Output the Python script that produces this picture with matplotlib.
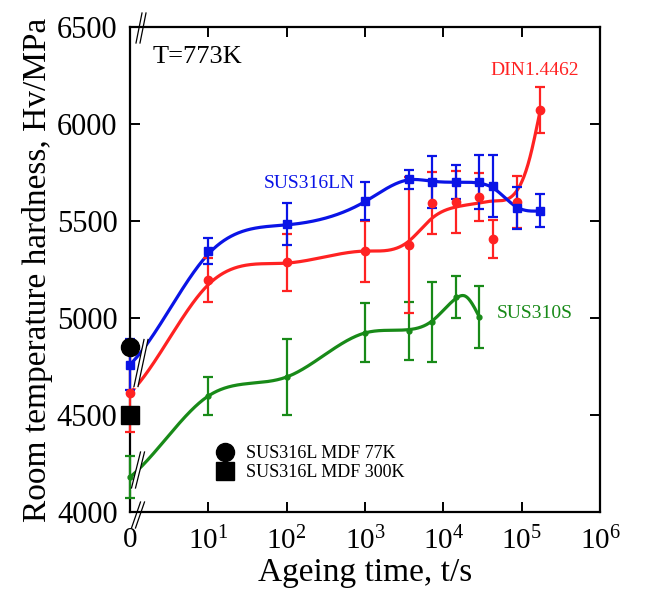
import numpy as np
import matplotlib
matplotlib.use('Agg')
import matplotlib.pyplot as plt
from matplotlib.lines import Line2D

plt.rcParams['font.family'] = ['Liberation Serif', 'DejaVu Serif']
plt.rcParams['mathtext.fontset'] = 'custom'
plt.rcParams['mathtext.rm'] = 'Liberation Serif'

# ---------------- data (ageing time in s; 0 s is drawn at the axis origin) ----------------
t_316ln = [0, 10, 100, 1000, 3600, 7200, 14400, 28800, 43200, 86400, 172800]
hv_316ln = [4760, 5345, 5485, 5603, 5715, 5700, 5700, 5700, 5680, 5567, 5552]
err_316ln = [130, 67, 108, 98, 50, 134, 88, 140, 160, 110, 85]

t_din = [0, 10, 100, 1000, 3600, 7200, 14400, 28800, 43200, 86400, 172800]
hv_din = [4613, 5195, 5288, 5345, 5376, 5593, 5598, 5623, 5407, 5598, 6072]
err_din = [200, 115, 147, 157, 350, 162, 160, 125, 100, 132, 118]

t_310s = [0, 10, 100, 1000, 3600, 7200, 14400, 28800]
hv_310s = [4180, 4598, 4696, 4923, 4933, 4979, 5108, 5005]
err_310s = [108, 98, 198, 152, 150, 206, 110, 160]

# fitted trend curves (values of the curve at these times,
# plus its initial slope per decade at the 0 s end)
fit_t_316ln = [0, 10, 100, 1000, 3600, 7200, 14400, 28800, 43200, 86400, 172800]
fit_hv_316ln = [4760, 5330, 5480, 5600, 5712, 5705, 5700, 5695, 5670, 5572, 5552]
fit_slope0_316ln = 400

fit_t_din = [0, 10, 100, 1000, 3600, 7200, 14400, 28800, 43200, 86400, 125000, 172800]
fit_hv_din = [4613, 5172, 5283, 5345, 5395, 5515, 5572, 5593, 5603, 5655, 5815, 6072]
fit_slope0_din = 400

fit_t_310s = [0, 10, 100, 1000, 3600, 7200, 14400, 19000, 28800]
fit_hv_310s = [4180, 4598, 4696, 4923, 4940, 4985, 5100, 5113, 5005]
fit_slope0_310s = 330

# SUS316L MDF reference values (at 0 s)
mdf_77k = 4850
mdf_300k = 4500

xtick_vals = [1, 10, 100, 1000, 1e4, 1e5, 1e6]
xtick_labels = ['0', r'$\mathregular{10^{1}}$', r'$\mathregular{10^{2}}$', r'$\mathregular{10^{3}}$',
                r'$\mathregular{10^{4}}$', r'$\mathregular{10^{5}}$', r'$\mathregular{10^{6}}$']
ytick_vals = [4000, 4500, 5000, 5500, 6000, 6500]

c_blue = '#0a14e6'
c_red = '#ff2222'
c_green = '#188a18'


def to_plot_x(t):
    t = np.asarray(t, dtype=float)
    return np.where(t == 0, 1.0, t)


def spline(xk, yk, xs, s0):
    """Cubic spline: clamped slope s0 at the start, natural at the end."""
    xk = np.asarray(xk, float)
    yk = np.asarray(yk, float)
    n = len(xk)
    h = np.diff(xk)
    delta = np.diff(yk) / h
    A = np.zeros((n, n))
    b = np.zeros(n)
    A[0, 0] = 2 * h[0]
    A[0, 1] = h[0]
    b[0] = 3 * (delta[0] - s0)
    A[-1, -1] = 1.0
    for i in range(1, n - 1):
        A[i, i - 1] = h[i - 1]
        A[i, i] = 2 * (h[i - 1] + h[i])
        A[i, i + 1] = h[i]
        b[i] = 3 * (delta[i] - delta[i - 1])
    c = np.linalg.solve(A, b)
    idx = np.clip(np.searchsorted(xk, xs) - 1, 0, n - 2)
    dx = xs - xk[idx]
    bb = delta[idx] - h[idx] * (2 * c[idx] + c[idx + 1]) / 3
    d = (c[idx + 1] - c[idx]) / (3 * h[idx])
    return yk[idx] + bb * dx + c[idx] * dx ** 2 + d * dx ** 3


def draw_fit(ax, t, hv, s0, color):
    u = np.log10(to_plot_x(t))
    us = np.linspace(u[0], u[-1], 800)
    ys = spline(u, hv, us, s0)
    ax.plot(10 ** us, ys, color=color, lw=2.3, zorder=3, clip_on=False, solid_capstyle='round')


def draw_points(ax, t, hv, err, color, marker, ms):
    cont = ax.errorbar(to_plot_x(t), hv, yerr=err, fmt=marker, ms=ms, color=color,
                       ecolor=color, elinewidth=1.6, capsize=3.8, capthick=1.6, zorder=4)
    cont.lines[0].set_clip_on(False)
    for a in cont.lines[1]:
        a.set_clip_on(False)
    for a in cont.lines[2]:
        a.set_clip_on(False)


fig = plt.figure(figsize=(6.55, 5.98), dpi=100)
ax = fig.add_axes([130 / 655, 1 - 512 / 598, 470 / 655, 485 / 598])

ax.set_xscale('log')
ax.set_xlim(1, 1e6)
ax.set_ylim(4000, 6500)

draw_fit(ax, fit_t_310s, fit_hv_310s, fit_slope0_310s, c_green)
draw_points(ax, t_310s, hv_310s, err_310s, c_green, 'o', 3.5)
draw_fit(ax, fit_t_din, fit_hv_din, fit_slope0_din, c_red)
draw_points(ax, t_din, hv_din, err_din, c_red, 'o', 6)
draw_fit(ax, fit_t_316ln, fit_hv_316ln, fit_slope0_316ln, c_blue)
draw_points(ax, t_316ln, hv_316ln, err_316ln, c_blue, 's', 6.3)

ax.plot(to_plot_x([0]), [mdf_77k], 'o', color='k', ms=13, zorder=6, clip_on=False)
ax.plot(to_plot_x([0]), [mdf_300k], 's', color='k', ms=13, zorder=6, clip_on=False)

ax.set_xticks(xtick_vals)
ax.set_xticklabels(xtick_labels, fontsize=21)
ax.xaxis.set_minor_locator(matplotlib.ticker.NullLocator())
ax.set_yticks(ytick_vals)
ax.set_yticklabels([str(v) for v in ytick_vals], fontsize=22)
ax.tick_params(axis='both', which='major', direction='in', length=7, width=1.4,
               top=True, right=True)
ax.tick_params(axis='x', pad=11)
ax.tick_params(axis='y', pad=9)
for s in ax.spines.values():
    s.set_linewidth(1.6)

ax.set_xlabel('Ageing time, t/s', fontsize=24, labelpad=1)
ax.set_ylabel('Room temperature hardness, Hv/MPa', fontsize=24, labelpad=3)

ax.text(0.049, 0.938, 'T=773K', transform=ax.transAxes, fontsize=19, ha='left', va='center')
ax.text(0.862, 0.911, 'DIN1.4462', transform=ax.transAxes, fontsize=14, color=c_red,
        ha='center', va='center')
ax.text(0.381, 0.678, 'SUS316LN', transform=ax.transAxes, fontsize=14, color=c_blue,
        ha='center', va='center')
ax.text(0.862, 0.410, 'SUS310S', transform=ax.transAxes, fontsize=14, color=c_green,
        ha='center', va='center')

handles = [Line2D([], [], marker='o', color='k', ls='', ms=13),
           Line2D([], [], marker='s', color='k', ls='', ms=13)]
fig.legend(handles, ['SUS316L MDF 77K', 'SUS316L MDF 300K'], loc='upper left',
           bbox_to_anchor=(216 / 655, 1 - 445 / 598), frameon=False, fontsize=13,
           borderpad=0, borderaxespad=0, handlelength=1.0, handletextpad=0.65,
           labelspacing=0.12)


# axis-break marks (decoration)
def slash(xc, yc, dx, dy, gap=4, white=False):
    if white:
        xs = [xc - dx / 2, xc + dx / 2]
        ys = [yc - dy / 2, yc + dy / 2]
        fig.add_artist(Line2D([x / 655 for x in xs], [1 - y / 598 for y in ys],
                              color='white', lw=gap * 0.72, zorder=9))
    for off in (-gap / 2, gap / 2):
        xs = [(xc + off - dx / 2), (xc + off + dx / 2)]
        ys = [(yc - dy / 2), (yc + dy / 2)]
        fig.add_artist(Line2D([x / 655 for x in xs], [1 - y / 598 for y in ys],
                              color='k', lw=0.9, zorder=10))


slash(141, 28, 6, -30)
slash(138, 515, 9, -26)
slash(141, 363, 10, -47, white=True)
slash(138, 470, 9, -36, white=True)

fig.savefig('out.png', dpi=100)
